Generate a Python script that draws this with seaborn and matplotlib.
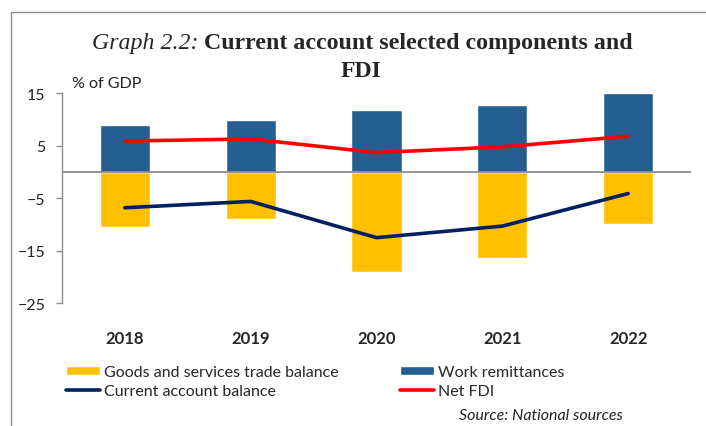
import matplotlib
matplotlib.use("Agg")
import matplotlib.pyplot as plt
from matplotlib.patches import Rectangle
import seaborn as sns
import pandas as pd

years = ["2018", "2019", "2020", "2021", "2022"]
trade_balance = [-10.5, -9.0, -19.1, -16.3, -9.9]
remittances = [9.0, 10.0, 11.9, 12.7, 15.0]
current_account = [-6.8, -5.6, -12.5, -10.3, -4.1]
net_fdi = [5.9, 6.3, 3.7, 4.8, 6.8]
y_ticks = [15, 5, -5, -15, -25]

df = pd.DataFrame({
    "year": years,
    "trade": trade_balance,
    "remit": remittances,
    "ca": current_account,
    "fdi": net_fdi,
})

sns.set_style("white")
plt.rcParams["font.family"] = ["Lato", "DejaVu Sans"]

fig = plt.figure(figsize=(7.06, 4.27), dpi=100)
ax = fig.add_axes([0.0878, 0.2874, 0.891, 0.4918])

sns.barplot(data=df, x="year", y="trade", color="#FFC000", width=0.4,
            saturation=1, ax=ax, label="Goods and services trade balance")
sns.barplot(data=df, x="year", y="remit", color="#255E91", width=0.4,
            saturation=1, ax=ax, label="Work remittances")
sns.lineplot(data=df, x="year", y="ca", color="#002060", linewidth=2.6,
             sort=False, ax=ax, label="Current account balance")
sns.lineplot(data=df, x="year", y="fdi", color="#FF0000", linewidth=2.6,
             sort=False, ax=ax, label="Net FDI")

ax.axhline(0, color="#8c8c8c", linewidth=1.3, zorder=1)
ax.set_xlim(-0.5, 4.5)
ax.set_ylim(-25, 15)
ax.set_yticks(y_ticks)
ax.set_xlabel("")
ax.set_ylabel("")
for s in ["top", "right", "bottom"]:
    ax.spines[s].set_visible(False)
ax.spines["left"].set_color("#8c8c8c")
ax.spines["left"].set_linewidth(1.0)
ax.tick_params(axis="y", left=True, length=4, width=1.0, color="#8c8c8c",
               pad=8, labelsize=11.5, labelcolor="#222222")
ax.tick_params(axis="x", bottom=False, pad=16, labelsize=12)
for lab in ax.get_xticklabels():
    lab.set_fontweight("bold")

# legend in two columns
h, l = ax.get_legend_handles_labels()
order = ["Goods and services trade balance", "Current account balance",
         "Work remittances", "Net FDI"]
hh = [h[l.index(o)] for o in order]
if ax.get_legend():
    ax.get_legend().remove()
fig.legend(hh, order, ncol=2, loc="upper left",
           bbox_to_anchor=(66 / 706, 1 - 366 / 427), frameon=False,
           fontsize=11.5, borderpad=0, borderaxespad=0, handlelength=2.1,
           handleheight=0.5, handletextpad=0.25, columnspacing=3.9,
           labelspacing=0.3)

# title with italic prefix and bold rest
fig.canvas.draw()
r = fig.canvas.get_renderer()
t1 = fig.text(92 / 706, 1 - 49 / 427, "Graph 2.2: ", family="Liberation Serif",
              style="italic", fontsize=17.2, va="baseline")
bb = t1.get_window_extent(r)
fig.text(bb.x1 / fig.bbox.width, 1 - 49 / 427,
         "Current account selected components and",
         family="Liberation Serif", weight="bold", fontsize=17.2, va="baseline")
fig.text(361 / 706, 1 - 77 / 427, "FDI", family="Liberation Serif",
         weight="bold", fontsize=17.2, ha="center", va="baseline")

fig.text(72 / 706, 1 - 88 / 427, "% of GDP", fontsize=11.5, va="baseline",
         color="#222222")
fig.text(623 / 706, 1 - 420 / 427, "Source: National sources", fontsize=11.5,
         style="italic", ha="right", va="baseline", color="#222222")

fig.patches.append(Rectangle((11 / 706, -0.2), 1.2, 1.2 - 13 / 427,
                             transform=fig.transFigure, fill=False,
                             edgecolor="#8c8c8c", linewidth=1.0))

fig.savefig("out.png", dpi=100)
